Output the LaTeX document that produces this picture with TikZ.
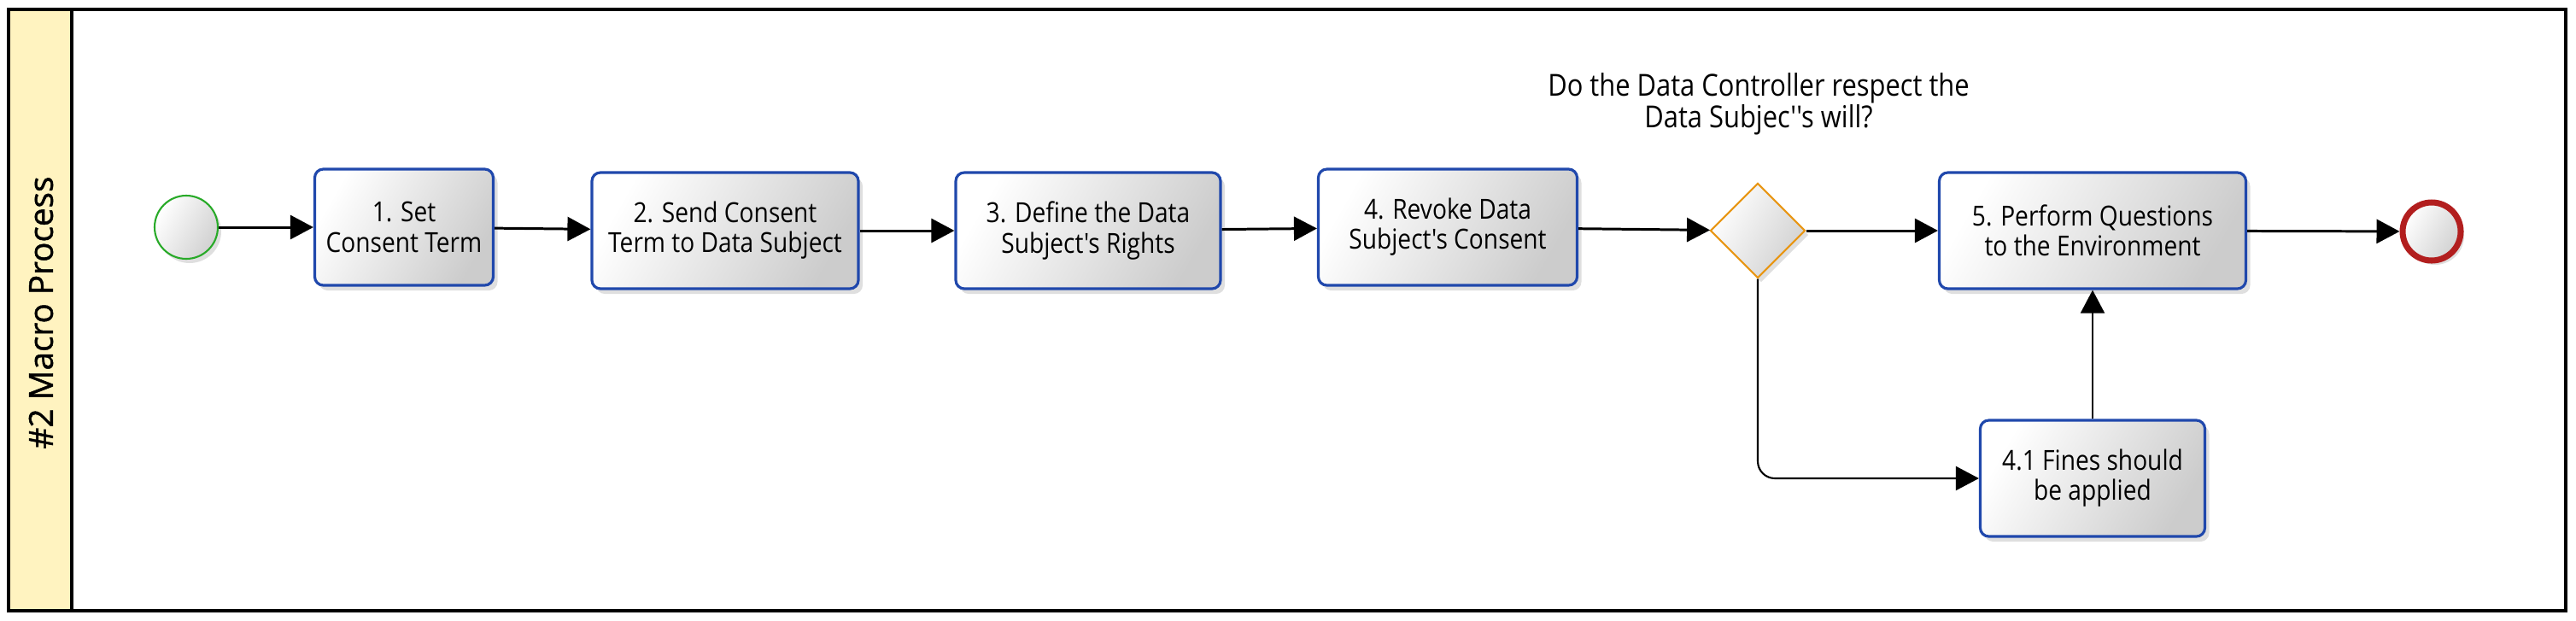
\documentclass[tikz,border=0pt]{standalone}
\usepackage{fontspec}
\setmainfont{Open Sans}[FakeStretch=0.87, Ligatures=TeXOff]
\newfontfamily\lanefont{Open Sans}[FakeBold=1.2]
\usetikzlibrary{arrows.meta,shapes.geometric,shadows}

\definecolor{laneyellow}{RGB}{255,243,192}
\definecolor{taskblue}{RGB}{32,72,172}
\definecolor{startgreen}{RGB}{40,170,40}
\definecolor{endred}{RGB}{178,30,30}
\definecolor{gateorange}{RGB}{232,150,20}

\begin{document}
\begin{tikzpicture}[
    task/.style={draw=taskblue, line width=0.9pt, rounded corners=0.1cm,
      minimum height=1.36cm, align=center, inner sep=1pt,
      left color=white, right color=black!20, shading angle=60,
      drop shadow={opacity=0.25, shadow xshift=0.05cm, shadow yshift=-0.06cm},
      font=\fontsize{9.2}{10}\selectfont},
    event/.style={circle, minimum size=0.74cm, inner sep=0pt,
      left color=white, right color=black!18, shading angle=60,
      drop shadow={opacity=0.25, shadow xshift=0.04cm, shadow yshift=-0.05cm}},
    gate/.style={diamond, draw=gateorange, line width=0.6pt, minimum size=1.11cm,
      inner sep=0pt, left color=white, right color=black!18, shading angle=60,
      drop shadow={opacity=0.25, shadow xshift=0.04cm, shadow yshift=-0.05cm}},
    flow/.style={line width=0.85pt, -{Triangle[length=0.27cm, width=0.28cm]}},
  ]
  \useasboundingbox (0,0) rectangle (30.16,7.26);

  % Pool and lane header
  \draw[line width=1.1pt] (0.10,0.11) rectangle (30.04,7.15);
  \draw[line width=1.1pt, fill=laneyellow] (0.10,0.11) rectangle (0.84,7.15);
  \node[rotate=90, font=\lanefont\fontsize{11}{13}\selectfont] (lane) at (0.48,3.60) {\#2 Macro Process};

  % Events
  \node[event, draw=startgreen, line width=0.6pt] (start) at (2.18,4.60) {};
  \node[event, draw=endred, line width=2pt, minimum size=0.68cm] (end) at (28.47,4.55) {};

  % Tasks
  \node[task, minimum width=2.09cm] (setterm) at (4.73,4.60) {1. Set\\Consent Term};
  \node[task, minimum width=3.12cm] (sendterm) at (8.49,4.56) {2. Send Consent\\Term to Data Subject};
  \node[task, minimum width=3.10cm] (rights) at (12.74,4.56) {3. Define the Data\\Subject's Rights};
  \node[task, minimum width=3.03cm] (revoke) at (16.95,4.60) {4. Revoke Data\\Subject's Consent};
  \node[task, minimum width=3.59cm] (perform) at (24.50,4.56) {5. Perform Questions\\to the Environment};
  \node[task, minimum width=2.63cm] (fines) at (24.50,1.66) {4.1 Fines should\\be applied};

  % Gateway
  \node[gate] (check) at (20.58,4.56) {};
  \node[align=center, font=\fontsize{10.1}{10.5}\selectfont] (question) at (20.59,6.04)
    {Do the Data Controller respect the\\Data Subjec''s will?};

  % Sequence flows
  \draw[flow] (start) -- (setterm);
  \draw[flow] (setterm) -- (sendterm);
  \draw[flow] (sendterm) -- (rights);
  \draw[flow] (rights) -- (revoke);
  \draw[flow] (revoke) -- (check);
  \draw[flow] (check) -- (perform);
  \draw[flow] (perform) -- (end);
  \draw[flow, line width=0.6pt, rounded corners=0.2cm] (check.south) |- (fines.west);
  \draw[flow, line width=0.6pt] (fines.north) -- (perform.south);
\end{tikzpicture}
\end{document}
